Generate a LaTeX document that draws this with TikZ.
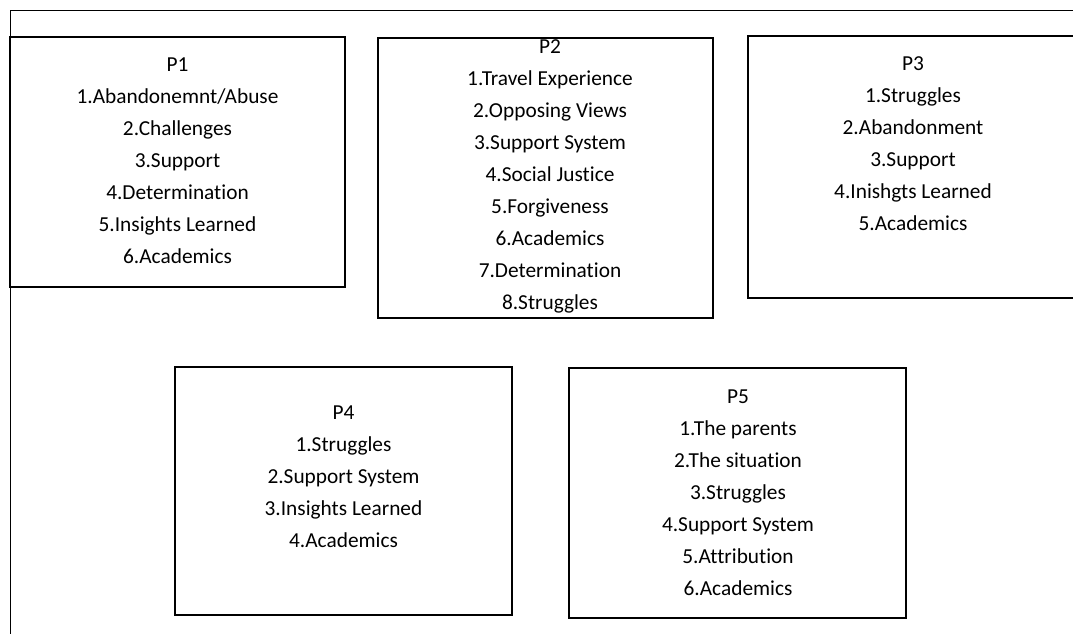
\documentclass[tikz,border=0pt]{standalone}
\usepackage{fontspec}
\setmainfont{Carlito}[Ligatures=NoCommon]
\usetikzlibrary{positioning,calc}
\tikzset{
  themebox/.style 2 args={draw, line width=1.5pt, inner sep=0pt,
    minimum width=#1*0.75pt, minimum height=#2*0.75pt},
  themes/.style={align=center, inner sep=0pt, font=\fontsize{16}{24}\selectfont},
}

\begin{document}
\begin{tikzpicture}[x=0.75pt,y=-0.75pt]
  \useasboundingbox (0,0) rectangle (1073,634);
  % page frame
  \coordinate (corner) at (10,11);
  \draw[line width=0.75pt] (1073,11) -- (corner) -- (10,634);
  % participant boxes
  \node[themebox={335}{250}] (p1) at (177.5,162) {};
  \node[themebox={335}{280}] (p2) at (545.5,178) {};
  \node[themebox={330}{262}] (p3) at (913,167) {};
  \node[themebox={337}{248}] (p4) at (343.5,491) {};
  \node[themebox={337}{250}] (p5) at (737.5,493) {};
  % themes
  \node[themes] (p1list) at ($(p1.center)+(0,-1)$)
    {P1\\1.Abandonemnt/Abuse\\2.Challenges\\3.Support\\4.Determination\\5.Insights Learned\\6.Academics};
  \node[themes] (p2list) at ($(p2.center)+(4.5,-2)$)
    {P2\\1.Travel Experience\\2.Opposing Views\\3.Support System\\4.Social Justice\\5.Forgiveness\\6.Academics\\7.Determination\\8.Struggles};
  \node[themes] (p3list) at ($(p3.center)+(0,-23.5)$)
    {P3\\1.Struggles\\2.Abandonment\\3.Support\\4.Inishgts Learned\\5.Academics};
  \node[themes] (p4list) at ($(p4.center)+(0,-14)$)
    {P4\\1.Struggles\\2.Support System\\3.Insights Learned\\4.Academics};
  \node[themes] (p5list) at ($(p5.center)+(0.5,-0.5)$)
    {P5\\1.The parents\\2.The situation\\3.Struggles\\4.Support System\\5.Attribution\\6.Academics};
\end{tikzpicture}
\end{document}
